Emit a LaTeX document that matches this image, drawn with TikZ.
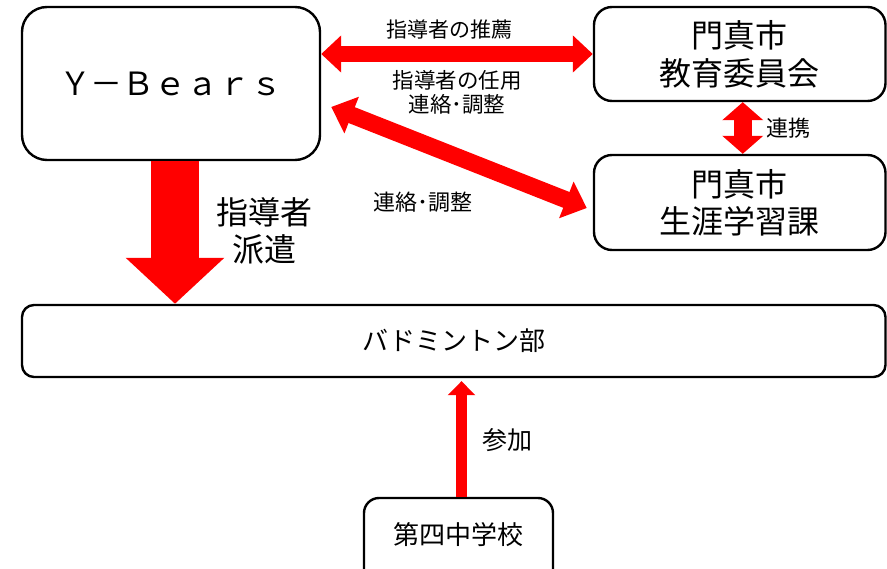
\documentclass[tikz,border=0pt]{standalone}
\usepackage{fontspec}
\setmainfont{Noto Sans CJK JP}
\usetikzlibrary{arrows.meta,calc}
\begin{document}
\begin{tikzpicture}[x=1pt,y=-1pt,
  box/.style={draw=black, line width=2.4pt, inner sep=0pt, align=center},
  lbl/.style={inner sep=0pt, align=center, text=black},
  redarrow/.style={draw=red, line width=#1}
]
\useasboundingbox (0,0) rectangle (887,569);
% boxes
\node[box, rounded corners=25pt, minimum width=298pt, minimum height=153pt,
      font=\fontsize{32}{36}\selectfont] (yb) at (171,83.5) {Ｙ－Ｂｅａｒｓ};
\node[box, rounded corners=18pt, minimum width=291.5pt, minimum height=94pt,
      font=\fontsize{32}{38}\selectfont] (kyo) at (739.75,54) {門真市\\教育委員会};
\node[box, rounded corners=18pt, minimum width=291.5pt, minimum height=95pt,
      font=\fontsize{32}{37}\selectfont] (sho) at (739.75,202.5) {門真市\\生涯学習課};
\node[box, rounded corners=12pt, minimum width=863.5pt, minimum height=72pt,
      font=\fontsize{26}{30}\selectfont] (bad) at (453.75,341) {バドミントン部};
\node[box, rounded corners=15pt, minimum width=189pt, minimum height=100pt] (daibox) at (458.5,548) {};
\node[lbl, font=\fontsize{26}{30}\selectfont] (dai) at (458,535) {第四中学校};
% arrows
\draw[redarrow=16pt, {Triangle[width=36pt,length=20pt]}-{Triangle[width=36pt,length=20pt]}]
  (yb.east |- kyo.west) -- (kyo.west);
\draw[redarrow=17pt, {Triangle[width=38pt,length=22pt]}-{Triangle[width=38pt,length=22pt]}]
  ($(yb.east)+(10,23.5)$) -- ($(sho.west)+(-6,5.5)$);
\coordinate (dstart) at ($(yb.south)+(4,0)$);
\draw[redarrow=48pt, -{Triangle[width=96pt,length=46pt]}]
  (dstart) -- (dstart |- bad.north);
\draw[redarrow=18pt, {Triangle[width=40pt,length=18pt]}-{Triangle[width=40pt,length=18pt]}]
  ($(kyo.south)+(3,0)$) -- ($(sho.north)+(3,0)$);
\coordinate (pstart) at ($(daibox.north)+(3,0)$);
\draw[redarrow=11pt, -{Triangle[width=27pt,length=14pt]}, shorten >=3pt]
  (pstart) -- (pstart |- bad.south);
% labels
\node[lbl, font=\fontsize{21}{24}\selectfont] (l1) at (449,30) {指導者の推薦};
\node[lbl, font=\fontsize{21.5}{24}\selectfont] (l2) at (457,92) {指導者の任用\\連絡･調整};
\node[lbl, font=\fontsize{22}{24}\selectfont] (l3) at (788,128) {連携};
\node[lbl, font=\fontsize{22}{24}\selectfont] (l4) at (423,202) {連絡･調整};
\node[lbl, font=\fontsize{32}{37}\selectfont] (l5) at (264,231) {指導者\\派遣};
\node[lbl, font=\fontsize{25}{28}\selectfont] (l6) at (507,440) {参加};
\end{tikzpicture}
\end{document}
